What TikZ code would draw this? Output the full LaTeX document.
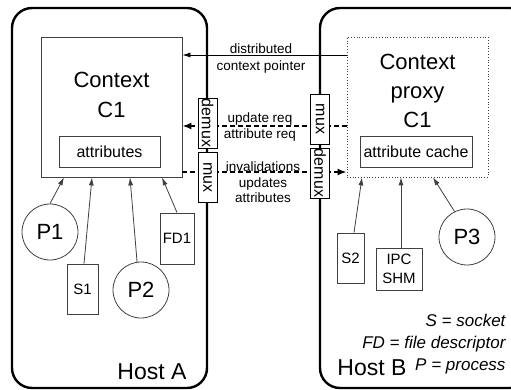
\documentclass[tikz,border=0pt]{standalone}
\usepackage{fontspec}
\setmainfont{Liberation Sans}
\usetikzlibrary{arrows.meta}

\tikzset{
  host/.style={draw=black, line width=2.4pt, rounded corners=20pt},
  objbox/.style={draw=black!75, line width=0.8pt, inner sep=0pt},
  muxbox/.style={draw=black, fill=white, line width=0.8pt, rotate=-90,
    minimum width=50pt, minimum height=19pt, inner sep=0pt,
    font=\fontsize{16}{16}\selectfont},
  msg/.style={line width=1.8pt, dash pattern=on 5pt off 3pt,
    -{Latex[length=9pt,width=7pt]}},
  link/.style={draw=black!75, line width=0.8pt, -{Latex[length=8pt,width=5pt]}},
  small/.style={font=\fontsize{13.5}{16}\selectfont, align=center},
  proc/.style={objbox, circle, minimum size=56pt, font=\fontsize{22}{22}\selectfont},
  handle/.style={objbox, font=\fontsize{15}{19}\selectfont, align=center},
}

\begin{document}
\begin{tikzpicture}[x=1pt, y=-1pt]
  \useasboundingbox (0,0) rectangle (511,390);
  % --- Hosts ---
  \draw[host] (12,8) rectangle (207,388);
  \draw[host] (320,8) rectangle (530,388);
  \node[font=\fontsize{23}{23}\selectfont] (hosta) at (152,372) {Host A};
  \node[font=\fontsize{23}{23}\selectfont] (hostb) at (372,368) {Host B};
  % --- Context on host A ---
  \node[objbox, minimum width=141pt, minimum height=140pt] (ctx) at (111.5,107) {};
  \node[font=\fontsize{22}{30}\selectfont, align=center] (ctxname) at (111.5,95) {Context\\C1};
  \node[objbox, minimum width=101pt, minimum height=31pt,
    font=\fontsize{16}{16}\selectfont] (attr) at (109.5,151.5) {attributes};
  % --- Context proxy on host B ---
  \node[objbox, dotted, minimum width=141pt, minimum height=140pt] (proxy) at (417.5,107) {};
  \node[font=\fontsize{22}{29}\selectfont, align=center] (proxyname) at (417.5,91) {Context\\proxy\\C1};
  \node[objbox, minimum width=112pt, minimum height=31pt,
    font=\fontsize{16}{16}\selectfont] (cache) at (416,151.5) {attribute cache};
  % --- Messages between the hosts ---
  \draw[link, draw=black] (proxy.west |- 0,55) -- (ctx.east |- 0,55);
  \node[small, font=\fontsize{13.5}{17}\selectfont] (ptrlabel) at (261,58.5) {distributed\\context pointer};
  \draw[msg] (proxy.west |- 0,126) -- (ctx.east |- 0,126);
  \node[small] (reqlabel) at (260,127) {update req\\attribute req};
  \draw[msg] (ctx.east |- 0,172) -- (proxy.west |- 0,172);
  \node[small, font=\fontsize{13.5}{15.5}\selectfont] (invlabel) at (263,182.5) {invalidations\\updates\\attributes};
  % --- Multiplexers on the host borders ---
  \node[muxbox] (demuxa) at (207.5,123) {demux};
  \node[muxbox] (muxa) at (207.5,177.5) {mux};
  \node[muxbox] (muxb) at (320,119) {mux};
  \node[muxbox] (demuxb) at (320,173) {demux};
  % --- Users of C1 on host A ---
  \node[proc] (p1) at (50,232) {P1};
  \node[handle, minimum width=31pt, minimum height=50pt] (s1) at (82.5,289) {S1};
  \node[proc] (p2) at (141,290) {P2};
  \node[handle, minimum width=34pt, minimum height=51pt] (fd1) at (177,238.5) {FD1};
  \draw[link] (p1.north) -- (64,0 |- ctx.south);
  \draw[link] (s1.north) ++(1.5,0) -- (92,0 |- ctx.south);
  \draw[link] (p2.98) -- (130,0 |- ctx.south);
  \draw[link] (fd1.north) -- (162,0 |- ctx.south);
  % --- Users of the proxy on host B ---
  \node[handle, minimum width=27pt, minimum height=50pt] (s2) at (350.5,258) {S2};
  \node[handle, minimum width=46pt, minimum height=42pt] (ipc) at (399,269) {IPC\\SHM};
  \node[proc] (p3) at (467,237) {P3};
  \draw[link] (s2.north) ++(3.5,0) -- (362,0 |- proxy.south);
  \draw[link] (ipc.north) ++(2,0) -- (401,0 |- proxy.south);
  \draw[link] (p3.116) -- (433,0 |- proxy.south);
  % --- Legend ---
  \node[font=\fontsize{17}{22}\selectfont\itshape, align=right, anchor=east] (legend) at (509,344)
    {S = socket\\FD = file descriptor\\P = process};
\end{tikzpicture}
\end{document}
